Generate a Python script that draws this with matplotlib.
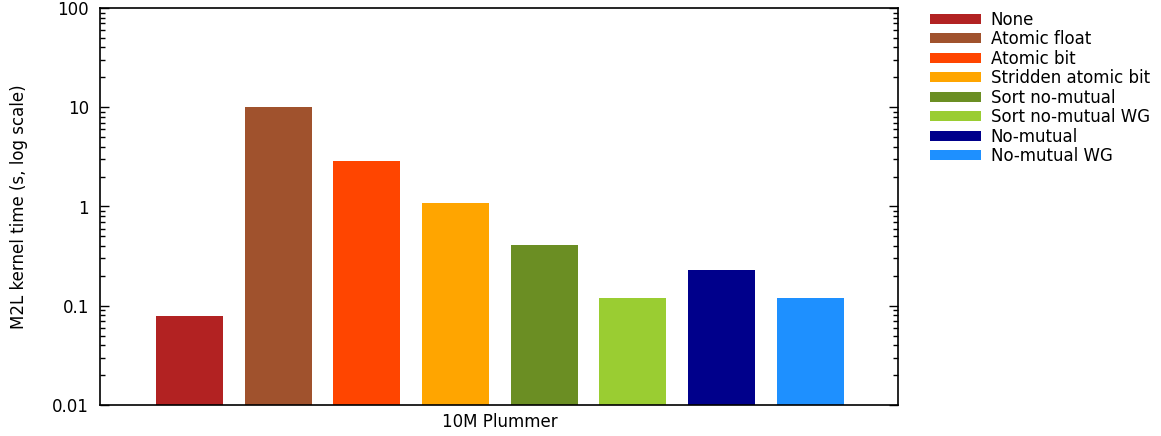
import matplotlib.pyplot as plt
from matplotlib.patches import Patch
from matplotlib.ticker import LogLocator, FixedLocator, NullFormatter

labels = ["None", "Atomic float", "Atomic bit", "Stridden atomic bit",
          "Sort no-mutual", "Sort no-mutual WG", "No-mutual", "No-mutual WG"]
times = [0.079, 10.1, 2.87, 1.08, 0.41, 0.12, 0.229, 0.12]
colors = ["#b22222", "#a0522d", "#ff4500", "#ffa500",
          "#6b8e23", "#9acd32", "#00008b", "#1e90ff"]
group = "10M Plummer"
yticks = [0.01, 0.1, 1, 10, 100]
ytick_labels = ["0.01", "0.1", "1", "10", "100"]

plt.rcParams["font.family"] = "DejaVu Sans"
plt.rcParams["font.size"] = 12

fig = plt.figure(figsize=(11.61, 4.36), dpi=100)
ax = fig.add_axes([100 / 1161, (436 - 405) / 436, 798 / 1161, 397 / 436])

x = list(range(len(times)))
ax.bar(x, times, width=0.755, color=colors, bottom=0.0001)
ax.set_yscale("log")
ax.set_ylim(0.01, 100)
ax.set_xlim(-1.01, 7.99)

ax.yaxis.set_major_locator(FixedLocator(yticks))
ax.set_yticklabels(ytick_labels)
ax.yaxis.set_minor_locator(LogLocator(base=10, subs=range(2, 10)))
ax.yaxis.set_minor_formatter(NullFormatter())
ax.tick_params(axis="y", which="major", direction="in", length=6.5, width=1,
               left=True, right=True, labelsize=12, pad=8)
ax.tick_params(axis="y", which="minor", direction="in", length=3.5, width=1,
               left=True, right=True)
ax.set_xticks([3.5])
ax.set_xticklabels([group], fontsize=12)
ax.tick_params(axis="x", length=0, pad=6)
for s in ax.spines.values():
    s.set_linewidth(1.2)

ax.set_ylabel("M2L kernel time (s, log scale)", fontsize=12, labelpad=17)

handles = [Patch(facecolor=c, label=l) for c, l in zip(colors, labels)]
fig.legend(handles=handles, loc="upper left", bbox_to_anchor=(918 / 1161, 1 + 1 / 436),
           frameon=False, fontsize=12, handlelength=3.05, handleheight=0.55,
           handletextpad=0.6, labelspacing=0.09, borderpad=0.2)

fig.savefig("out.png", dpi=100)
